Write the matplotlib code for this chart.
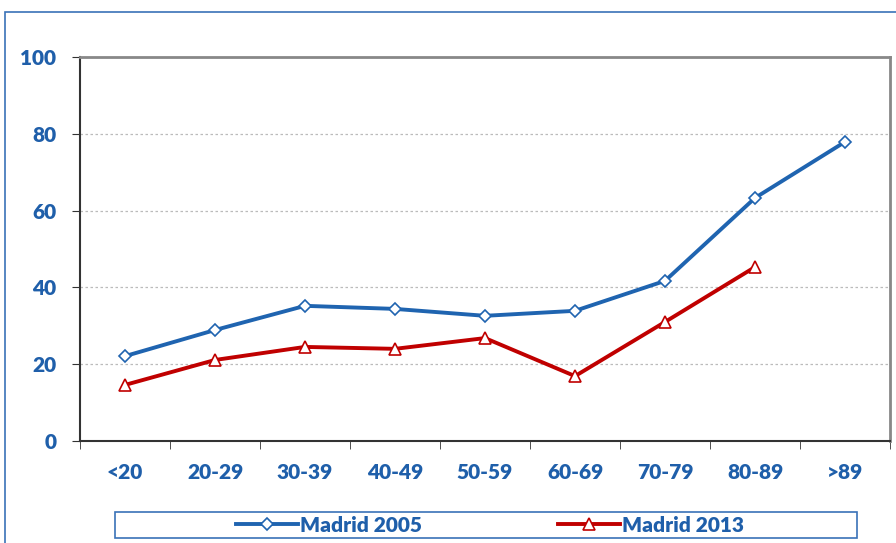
import matplotlib.pyplot as plt
from matplotlib.patches import Rectangle
from matplotlib.lines import Line2D

categories = ['<20', '20-29', '30-39', '40-49', '50-59', '60-69', '70-79', '80-89', '>89']
madrid_2005 = [22.1, 28.9, 35.2, 34.4, 32.6, 33.9, 41.7, 63.3, 77.9]
madrid_2013 = [14.6, 21.1, 24.5, 24.0, 26.8, 16.9, 31.0, 45.3]
y_ticks = [0, 20, 40, 60, 80, 100]

BLUE = '#1F64B0'
RED = '#C00000'
TXT = '#1F5FAA'

plt.rcParams['font.family'] = ['Lato', 'DejaVu Sans']
WEIGHT = 'heavy'

fig = plt.figure(figsize=(8.96, 5.43), dpi=100)
ax = fig.add_axes([80/896, 102/543, 810/896, 384/543])

x = list(range(len(categories)))
ax.plot(x, madrid_2005, color=BLUE, lw=2.8, marker='D', ms=6,
        markerfacecolor='white', markeredgecolor=BLUE, markeredgewidth=1.2)
ax.plot(x[:len(madrid_2013)], madrid_2013, color=RED, lw=2.8, marker='^', ms=8,
        markerfacecolor='white', markeredgecolor=RED, markeredgewidth=1.2)

ax.set_xlim(-0.5, len(categories) - 0.5)
ax.set_ylim(0, 100)
ax.set_yticks(y_ticks)
ax.set_xticks(x)
ax.set_xticklabels(categories)
ax.set_xticks([i - 0.5 for i in range(len(categories) + 1)], minor=True)
ax.tick_params(axis='x', which='major', length=0, pad=16)
ax.tick_params(axis='x', which='minor', length=6, color='#333333', direction='out')
ax.tick_params(axis='y', length=6, color='#333333', direction='out', pad=11)
for lab in ax.get_xticklabels() + ax.get_yticklabels():
    lab.set_fontsize(15)
    lab.set_fontweight(WEIGHT)
    lab.set_color(TXT)

ax.grid(axis='y', linestyle=(0, (2, 2)), color='#BBBBBB', lw=0.9)
ax.set_axisbelow(True)
ax.spines['left'].set_color('#333333')
ax.spines['bottom'].set_color('#333333')
ax.spines['left'].set_linewidth(1.5)
ax.spines['bottom'].set_linewidth(1.5)
ax.spines['top'].set_color('#888888')
ax.spines['right'].set_color('#888888')
ax.spines['top'].set_linewidth(2)
ax.spines['right'].set_linewidth(2)

# outer chart border (cropped)
fig.patches.append(Rectangle((5/896, -0.2), 1.2, 0.2 + (543 - 12)/543,
                             transform=fig.transFigure, fill=False,
                             edgecolor='#3A72B8', lw=1.2))

# legend box
fig.patches.append(Rectangle((115/896, 5/543), 742/896, 26/543,
                             transform=fig.transFigure, fill=False,
                             edgecolor='#3A72B8', lw=1.2))
handles = [
    Line2D([], [], color=BLUE, lw=2.8, marker='D', ms=6, markerfacecolor='white',
           markeredgecolor=BLUE, markeredgewidth=1.2),
    Line2D([], [], color=RED, lw=2.8, marker='^', ms=8, markerfacecolor='white',
           markeredgecolor=RED, markeredgewidth=1.2),
]
leg = fig.legend(handles, ['Madrid 2005', 'Madrid 2013'], ncol=2, frameon=False,
                 loc='center', bbox_to_anchor=(490/896, 18/543), handlelength=3.0,
                 handletextpad=0.1, columnspacing=6.5,
                 prop={'size': 15, 'weight': WEIGHT})
for t in leg.get_texts():
    t.set_color(TXT)

fig.savefig('out.png', dpi=100)
